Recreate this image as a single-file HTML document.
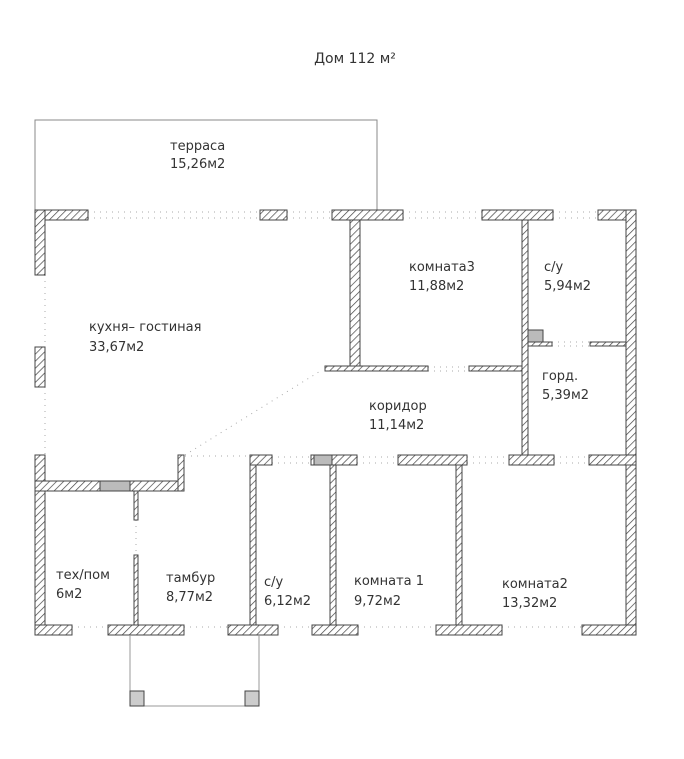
<!DOCTYPE html>
<html><head><meta charset="utf-8"><style>
body{margin:0;background:#fff;}
svg{display:block;}
text{font-family:"DejaVu Sans","Liberation Sans",sans-serif;font-size:13px;fill:#333;}
</style></head><body>
<svg width="684" height="759" viewBox="0 0 684 759">
<defs>
<pattern id="h" patternUnits="userSpaceOnUse" width="5" height="5" patternTransform="rotate(45)">
<rect width="5" height="5" fill="#fff"/><line x1="0" y1="0" x2="0" y2="5" stroke="#444" stroke-width="1.4"/>
</pattern>
</defs>
<text x="355" y="63" text-anchor="middle" style="font-size:14px">Дом 112 м²</text>
<!-- terrace -->
<polyline points="35,210 35,120 377,120 377,210" fill="none" stroke="#888" stroke-width="1"/>
<text x="170" y="150">терраса</text><text x="170" y="168">15,26м2</text>
<!-- dotted lines -->
<g stroke="#aaa" stroke-width="1" stroke-dasharray="1,5" fill="none">
<line x1="88" y1="212" x2="260" y2="212"/><line x1="88" y1="218" x2="260" y2="218"/>
<line x1="287" y1="212" x2="332" y2="212"/><line x1="287" y1="218" x2="332" y2="218"/>
<line x1="403" y1="212" x2="482" y2="212"/><line x1="403" y1="218" x2="482" y2="218"/>
<line x1="553" y1="212" x2="598" y2="212"/><line x1="553" y1="218" x2="598" y2="218"/>
<line x1="45" y1="275" x2="45" y2="347"/><line x1="45" y1="387" x2="45" y2="455"/>
<line x1="185" y1="455" x2="322" y2="370"/>
<line x1="185" y1="456" x2="250" y2="456"/>
<line x1="272" y1="457" x2="311" y2="457"/><line x1="272" y1="463" x2="311" y2="463"/>
<line x1="357" y1="457" x2="398" y2="457"/><line x1="357" y1="463" x2="398" y2="463"/>
<line x1="467" y1="457" x2="509" y2="457"/><line x1="467" y1="463" x2="509" y2="463"/>
<line x1="554" y1="457" x2="589" y2="457"/><line x1="554" y1="463" x2="589" y2="463"/>
<line x1="428" y1="367" x2="469" y2="367"/><line x1="428" y1="371" x2="469" y2="371"/>
<line x1="552" y1="342" x2="590" y2="342"/><line x1="552" y1="346" x2="590" y2="346"/>
<line x1="136" y1="520" x2="136" y2="555"/>
<line x1="72" y1="627" x2="108" y2="627"/><line x1="184" y1="627" x2="228" y2="627"/>
<line x1="278" y1="627" x2="312" y2="627"/><line x1="358" y1="627" x2="436" y2="627"/>
<line x1="502" y1="627" x2="582" y2="627"/>
</g>
<!-- walls -->
<g fill="url(#h)" stroke="#444" stroke-width="1">
<rect x="35" y="210" width="53" height="10"/><rect x="35" y="210" width="10" height="65"/>
<rect x="260" y="210" width="27" height="10"/>
<rect x="332" y="210" width="71" height="10"/>
<rect x="482" y="210" width="71" height="10"/>
<rect x="598" y="210" width="38" height="10"/><rect x="626" y="210" width="10" height="425"/>
<rect x="35" y="347" width="10" height="40"/>
<rect x="35" y="455" width="10" height="180"/>
<rect x="35" y="625" width="37" height="10"/><rect x="108" y="625" width="76" height="10"/>
<rect x="228" y="625" width="50" height="10"/><rect x="312" y="625" width="46" height="10"/>
<rect x="436" y="625" width="66" height="10"/><rect x="582" y="625" width="54" height="10"/>
<rect x="350" y="220" width="10" height="146"/>
<rect x="325" y="366" width="103" height="5"/><rect x="469" y="366" width="55" height="5"/>
<rect x="522" y="220" width="6" height="240"/>
<rect x="528" y="342" width="24" height="4"/><rect x="590" y="342" width="36" height="4"/>
<rect x="250" y="455" width="22" height="10"/><rect x="311" y="455" width="46" height="10"/>
<rect x="398" y="455" width="69" height="10"/><rect x="509" y="455" width="45" height="10"/>
<rect x="589" y="455" width="47" height="10"/>
<rect x="250" y="465" width="6" height="160"/><rect x="330" y="465" width="6" height="160"/>
<rect x="456" y="465" width="6" height="160"/>
<rect x="35" y="481" width="149" height="10"/><rect x="178" y="455" width="6" height="36"/>
<rect x="134" y="491" width="4" height="29"/><rect x="134" y="555" width="4" height="70"/>
</g>
<g fill="#bbb" stroke="#444" stroke-width="1">
<rect x="100" y="481" width="30" height="10"/>
<rect x="528" y="330" width="15" height="12"/>
<rect x="314" y="455" width="18" height="10"/>
</g>
<!-- porch -->
<polyline points="130,635 130,706 259,706 259,635" fill="none" stroke="#999" stroke-width="1"/>
<rect x="130" y="691" width="14" height="15" fill="#ccc" stroke="#444"/>
<rect x="245" y="691" width="14" height="15" fill="#ccc" stroke="#444"/>
<!-- labels -->
<text x="89" y="331">кухня– гостиная</text><text x="89" y="351">33,67м2</text>
<text x="409" y="271">комната3</text><text x="409" y="290">11,88м2</text>
<text x="544" y="271">с/у</text><text x="544" y="290">5,94м2</text>
<text x="542" y="380">горд.</text><text x="542" y="399">5,39м2</text>
<text x="369" y="410">коридор</text><text x="369" y="429">11,14м2</text>
<text x="56" y="579">тех/пом</text><text x="56" y="598">6м2</text>
<text x="166" y="582">тамбур</text><text x="166" y="601">8,77м2</text>
<text x="264" y="586">с/у</text><text x="264" y="605">6,12м2</text>
<text x="354" y="585">комната 1</text><text x="354" y="605">9,72м2</text>
<text x="502" y="588">комната2</text><text x="502" y="607">13,32м2</text>
</svg>
</body></html>
